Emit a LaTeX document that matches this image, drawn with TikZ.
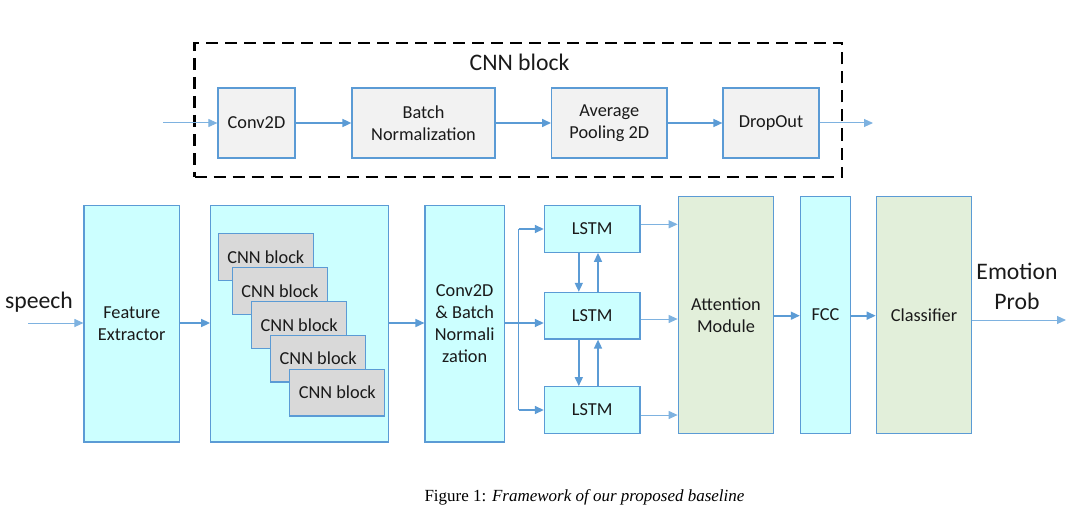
\documentclass[tikz,border=0pt]{standalone}
\usepackage{fontspec}
\setmainfont{Carlito}
\newfontfamily\capfont{Liberation Serif}
\usetikzlibrary{arrows.meta}
\definecolor{bblue}{HTML}{5B9BD5}
\definecolor{lblue}{HTML}{7EB2E0}
\definecolor{cyanfill}{HTML}{CCFFFF}
\definecolor{greenfill}{HTML}{E2EFDA}
\definecolor{grayfill}{HTML}{F2F2F2}
\definecolor{stackfill}{HTML}{D9D9D9}
\definecolor{txt}{HTML}{1A1A1A}
\tikzset{
  box/.style={draw=bblue, line width=1.2pt, rectangle, inner sep=0pt, align=center,
    text=txt, font=\fontsize{18.3}{22}\selectfont},
  topbox/.style={box, fill=grayfill, minimum height=70pt},
  cyanbox/.style={box, fill=cyanfill},
  greenbox/.style={box, fill=greenfill},
  stackbox/.style={box, fill=stackfill, minimum width=95pt, minimum height=46.5pt},
  lstmbox/.style={box, fill=cyanfill, minimum width=95.6pt, minimum height=46.6pt},
  mainarrow/.style={draw=bblue, line width=1.6pt, -{Triangle[length=9pt,width=8pt]}},
  thinarrow/.style={draw=lblue, line width=1pt, -{Triangle[length=9pt,width=8pt]}, color=lblue},
  bigtext/.style={font=\fontsize{23.7}{30}\selectfont, align=center, inner sep=0pt, text=txt},
}
\begin{document}
\begin{tikzpicture}[x=1pt, y=-1pt]
\useasboundingbox (0,0) rectangle (1078,524);
% CNN block (top)
\node[draw=black, dash pattern=on 12pt off 7pt, line width=2.2pt, minimum width=647.5pt, minimum height=134pt, inner sep=0pt] (frame) at (518.25,110) {};
\node[bigtext] (title) at (519.5,62) {CNN block};
\node[topbox, minimum width=77pt] (conv) at (256.5,123) {Conv2D};
\node[topbox, minimum width=143pt] (bn) at (423.5,123) {Batch\\Normalization};
\node[topbox, minimum width=115.4pt] (ap) at (609.3,123) {Average\\Pooling 2D};
\node[topbox, minimum width=96pt] (do) at (771,123) {DropOut};
\coordinate (tin) at (163,123);
\coordinate (tout) at (873,123);
\draw[thinarrow] (tin) -- (conv.west);
\draw[mainarrow] (conv.east) -- (bn.west);
\draw[mainarrow] (bn.east) -- (ap.west);
\draw[mainarrow] (ap.east) -- (do.west);
\draw[thinarrow] (do.east) -- (tout);

% bottom row
\node[cyanbox, minimum width=95.3pt, minimum height=236.3pt] (fe) at (131.7,323.9) {Feature\\Extractor};
\node[cyanbox, minimum width=178pt, minimum height=236.3pt] (cont) at (299.7,323.9) {};
\node[stackbox] (s1) at (265.8,256.9) {CNN block};
\node[stackbox] (s2) at (280,290.9) {CNN block};
\node[stackbox] (s3) at (299.2,325) {CNN block};
\node[stackbox] (s4) at (318.2,358.7) {CNN block};
\node[stackbox] (s5) at (337.3,392.7) {CNN block};
\node[cyanbox, minimum width=79.3pt, minimum height=236.3pt] (cb) at (464.7,323.9) {Conv2D\\\& Batch\\Normali\\zation};
\node[lstmbox] (l1) at (592.2,229) {LSTM};
\node[lstmbox] (l2) at (592.2,315.7) {LSTM};
\node[lstmbox] (l3) at (592.2,410) {LSTM};
\node[greenbox, minimum width=95.5pt, minimum height=236.6pt] (att) at (726,315) {Attention\\Module};
\node[cyanbox, minimum width=50pt, minimum height=236.6pt] (fcc) at (825.4,315) {FCC};
\node[greenbox, minimum width=95.5pt, minimum height=236.6pt] (cls) at (924,315) {Classifier};
\node[bigtext] (speech) at (39,301.7) {speech};
\node[bigtext] (emo) at (1017,286.7) {Emotion\\Prob};

\coordinate (sp) at (28,323);
\coordinate (split) at (518.5,323);
\coordinate (splittop) at (518.5,229);
\coordinate (splitbot) at (518.5,410);
\coordinate (fin) at (1066,320);

\draw[thinarrow] (sp) -- (sp -| fe.west);
\draw[mainarrow] (sp -| fe.east) -- (sp -| cont.west);
\draw[mainarrow] (sp -| cont.east) -- (sp -| cb.west);
\draw[mainarrow] (sp -| cb.east) -- (sp -| l2.west);
\draw[draw=bblue, line width=1.6pt] (splittop) -- (splitbot);
\draw[mainarrow] (splittop) -- (l1.west);
\draw[mainarrow] (splitbot) -- (l3.west);
% LSTM vertical links
\draw[mainarrow] (578.8,252.3) coordinate (d1) -- (d1 |- l2.north);
\draw[mainarrow] (598,292.3) coordinate (u1) -- (u1 |- l1.south);
\draw[mainarrow] (578.8,339) coordinate (d2) -- (d2 |- l3.north);
\draw[mainarrow] (598,386.7) coordinate (u2) -- (u2 |- l2.south);
% LSTM outputs
\draw[thinarrow] (l1.east |- 0,224.3) -- (att.west |- 0,224.3);
\draw[thinarrow] (l2.east |- 0,319) -- (att.west |- 0,319);
\draw[thinarrow] (l3.east |- 0,415) -- (att.west |- 0,415);
\draw[mainarrow] (att.east |- 0,315.7) -- (fcc.west |- 0,315.7);
\draw[mainarrow] (fcc.east |- 0,315.7) -- (cls.west |- 0,315.7);
\draw[thinarrow] (cls.east |- fin) -- (fin);

% caption
\node[inner sep=0pt, font=\capfont\fontsize{17}{20}\selectfont] (cap) at (584.5,497) {Figure 1: \textit{Framework of our proposed baseline}};
\end{tikzpicture}
\end{document}
